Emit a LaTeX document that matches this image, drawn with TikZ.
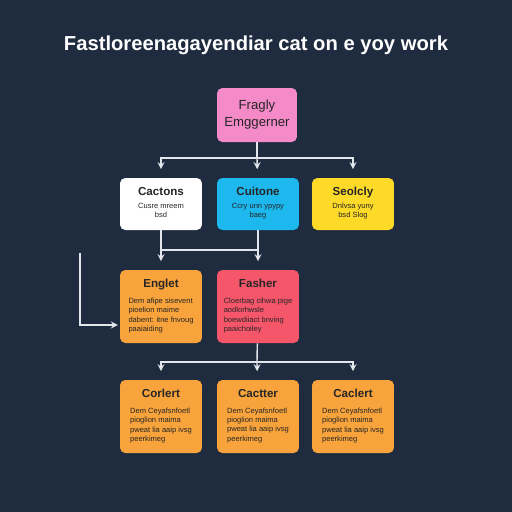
\documentclass[tikz,border=0pt]{standalone}
\usepackage{fontspec}
\setmainfont{Liberation Sans}
\definecolor{navy}{HTML}{1F2B3F}
\definecolor{pinkbox}{HTML}{F48AC8}
\definecolor{cyanbox}{HTML}{1CB8EE}
\definecolor{yellowbox}{HTML}{FDD928}
\definecolor{orangebox}{HTML}{F8A33B}
\definecolor{redbox}{HTML}{F5566A}
\definecolor{wire}{HTML}{E3E6EB}
\newcommand{\bd}{\fontsize{4.3}{5.3}\selectfont}
\newcommand{\hd}{\fontsize{6.6}{8}\selectfont\bfseries}
\tikzset{
	box/.style={rounded corners=3pt, minimum width=1.64cm, minimum height=1.04cm, inner sep=1pt, text=black!85, font=\bd},
	tallbox/.style={box, minimum height=1.46cm},
	link/.style={draw=wire, line width=0.8pt},
}
% short box: centred title and lines
\newcommand{\shorttxt}[2]{\begin{tabular}{@{}c@{}}\hd #1\\[2pt] #2\end{tabular}}
% tall box: centred title, lines flush left
\newcommand{\talltxt}[2]{\begin{tabular}{@{}l@{}}\multicolumn{1}{@{}c@{}}{\hd #1}\\[4pt] #2\end{tabular}}
\begin{document}
\begin{tikzpicture}[x=0.02cm,y=-0.02cm,>=stealth]
	\fill[navy] (0,0) rectangle (512,512);
	\useasboundingbox (0,0) rectangle (512,512);

	\node[text=white, font=\fontsize{11.5}{13}\selectfont\bfseries] (title) at (256,45) {Fastloreenagayendiar cat on e yoy work};

	% top and second row
	\node[box, fill=pinkbox, minimum width=1.6cm, minimum height=1.08cm, align=center, font=\fontsize{7.5}{9.6}\selectfont] (top) at (257,115) {Fragly\\Emggerner};
	\node[box, fill=white] (cA) at (161,204) {\shorttxt{Cactons}{Cusre mreem\\bsd}};
	\node[box, fill=cyanbox] (cB) at (258,204) {\shorttxt{Cuitone}{Ccry unn ypypy\\baeg}};
	\node[box, fill=yellowbox] (cC) at (353,204) {\shorttxt{Seolcly}{Dnlvsa yuny\\bsd Slog}};

	% third row
	\node[tallbox, fill=orangebox] (eA) at (161,306.5) {\talltxt{Englet}{Dem afipe sisevent\\pioelion maime\\dabent: itne fnvoug\\paaiaiding}};
	\node[tallbox, fill=redbox] (eB) at (258,306.5) {\talltxt{Fasher}{Cloerbag cihwa pige\\aodlorhwsle\\boewdiiact bnving\\paaichoiley}};

	% last row
	\node[tallbox, fill=orangebox] (dA) at (161,416.5) {\talltxt{Corlert}{Dem Ceyafsnfoetl\\pioglion maima\\pweat lia aaip ivsg\\peerkimeg}};
	\node[tallbox, fill=orangebox] (dB) at (258,416.5) {\talltxt{Cactter}{Dem Ceyafsnfoetl\\pioglion maima\\pweat lia aaip ivsg\\peerkimeg}};
	\node[tallbox, fill=orangebox] (dC) at (353,416.5) {\talltxt{Caclert}{Dem Ceyafsnfoetl\\pioglion maima\\pweat lia aaip ivsg\\peerkimeg}};

	% connectors
	\coordinate (j1) at (257,158);
	\draw[link] (top) -- (j1);
	\draw[link,->,shorten >=6\pgflinewidth] (j1) -| (cA);
	\draw[link,->,shorten >=6\pgflinewidth] (j1) -| (cC);
	\draw[link,->,shorten >=6\pgflinewidth] (j1) -- (cB);

	\coordinate (h1) at (161,250);
	\coordinate (h2) at (257,250);
	\draw[link,->,shorten >=6\pgflinewidth] (cA) -- (eA);
	\draw[link,->,shorten >=6\pgflinewidth] (cB) -- (eB);
	\draw[link] (h1) -- (h2);

	\coordinate (lt) at (80,253);
	\coordinate (lb) at (80,325);
	\draw[link,->] (lt) -- (lb) -- ([xshift=-1pt]eA.west |- lb);

	\coordinate (j2) at (257,362);
	\draw[link] (eB) -- (j2);
	\draw[link,->,shorten >=6\pgflinewidth] (j2) -| (dA);
	\draw[link,->,shorten >=6\pgflinewidth] (j2) -| (dC);
	\draw[link,->,shorten >=6\pgflinewidth] (j2) -- (dB);
\end{tikzpicture}
\end{document}
